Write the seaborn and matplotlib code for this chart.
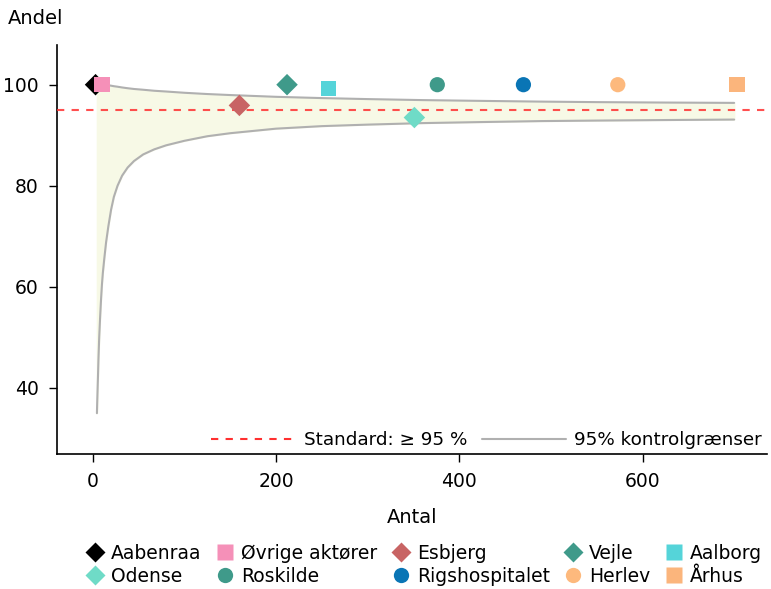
import seaborn as sns
import matplotlib.pyplot as plt
import pandas as pd
from matplotlib.lines import Line2D

# hospitals: antal (n) and andel (%)
hospitals = ["Aabenraa", "Øvrige aktører", "Esbjerg", "Vejle", "Aalborg",
             "Odense", "Roskilde", "Rigshospitalet", "Herlev", "Århus"]
antal = [3, 10, 160, 212, 257, 351, 376, 470, 573, 703]
andel = [100, 100, 95.9, 100, 99.2, 93.5, 100, 100, 100, 100]

markers = ["D", "s", "D", "D", "s", "D", "o", "o", "o", "s"]
colors = ["#000000", "#f590b8", "#c86464", "#3f9a8a", "#55d4d9",
          "#6fdbc7", "#3f9a8a", "#0a75b5", "#fdb97d", "#fbb57c"]

standard = 95

# control limits
limit_n = [4.5, 4.8, 5.2, 5.7, 6.2, 7, 8, 9, 10, 11, 12.5, 14.5, 17, 20, 23,
           27, 32, 38, 45, 55, 67, 80, 100, 125, 150, 200, 250, 300, 360,
           422, 490, 550, 620, 700]
lower_limit = [35.0, 37.0, 39.5, 42.5, 45.8, 50.0, 54.0, 57.5, 60.5, 62.8,
               65.5, 68.8, 72.0, 75.3, 77.8, 80.0, 82.0, 83.6, 84.9, 86.2,
               87.2, 88.0, 88.9, 89.8, 90.4, 91.3, 91.8, 92.1, 92.4, 92.6,
               92.8, 92.9, 93.0, 93.1]
upper_limit = [100.2, 100.2, 100.2, 100.2, 100.2, 100.15, 100.1, 100.1,
               100.05, 100.0, 100.0, 99.95, 99.9, 99.8, 99.7, 99.6, 99.45,
               99.3, 99.15, 99.0, 98.8, 98.65, 98.4, 98.15, 97.95, 97.6,
               97.35, 97.15, 96.95, 96.8, 96.65, 96.55, 96.47, 96.4]

df = pd.DataFrame({"hospital": hospitals, "antal": antal, "andel": andel})
limits = pd.DataFrame({"n": limit_n, "lower": lower_limit, "upper": upper_limit})

sns.set_style("white")
plt.rcParams["font.family"] = ["DejaVu Sans"]
plt.rcParams.update({"text.color": "black", "axes.labelcolor": "black",
                     "xtick.color": "black", "ytick.color": "black"})

fig = plt.figure(figsize=(7.71, 5.89), dpi=100)
ax = fig.add_axes([0.074, 0.229, 0.921, 0.695])

# funnel band
ax.fill_between(limits["n"], limits["lower"], limits["upper"],
                color="#f7f9e6", zorder=1)
sns.lineplot(data=limits, x="n", y="lower", color="#b0b0b0", lw=1.5,
             ax=ax, zorder=2)
sns.lineplot(data=limits, x="n", y="upper", color="#b0b0b0", lw=1.5,
             ax=ax, zorder=2)
ax.axhline(standard, color="#ff3030", ls=(0, (3.5, 3.5)), lw=1.5, alpha=0.85,
           zorder=3)

sns.scatterplot(data=df, x="antal", y="andel", hue="hospital", style="hospital",
                palette=dict(zip(hospitals, colors)),
                markers=dict(zip(hospitals, markers)),
                s=120, edgecolor="none", legend=False, ax=ax, zorder=4)

ax.set_xlim(-39, 736)
ax.set_ylim(26.9, 107.9)
ax.set_xticks([0, 200, 400, 600])
ax.set_yticks([40, 60, 80, 100])
ax.tick_params(axis="both", which="both", direction="out", length=6,
               width=1, labelsize=13.5, pad=7, bottom=True, left=True)
for side in ["top", "right"]:
    ax.spines[side].set_visible(False)
for side in ["left", "bottom"]:
    ax.spines[side].set_color("black")
    ax.spines[side].set_linewidth(1.2)

ax.set_xlabel("Antal", fontsize=14, labelpad=12)
ax.set_ylabel("")
fig.text(0.010, 0.968, "Andel", fontsize=14, va="center", ha="left")

line_handles = [
    Line2D([0], [0], color="#ff3030", ls=(0, (3.5, 3.5)), lw=1.5),
    Line2D([0], [0], color="#b0b0b0", lw=1.5),
]
ax.legend(line_handles, ["Standard: \u2265 95 %", "95% kontrolgrænser"],
          loc="lower right", ncol=2, frameon=False, fontsize=13.2,
          handlelength=4.6, columnspacing=0.8, handletextpad=0.45,
          borderaxespad=0.1, bbox_to_anchor=(1.006, -0.01))

# hospital legend, row-major order in 5 columns
order = [0, 5, 1, 6, 2, 7, 3, 8, 4, 9]
point_handles = [Line2D([0], [0], marker=markers[i], color="none",
                        markerfacecolor=colors[i], markeredgecolor="none",
                        markersize=11 if markers[i] != "D" else 10)
                 for i in order]
fig.legend(point_handles, [hospitals[i] for i in order], ncol=5,
           loc="lower center", bbox_to_anchor=(0.551, -0.023), frameon=False,
           fontsize=13.5, handlelength=0.8, handletextpad=0.45,
           columnspacing=0.85, labelspacing=0.2)

fig.savefig("out.png", dpi=100)
